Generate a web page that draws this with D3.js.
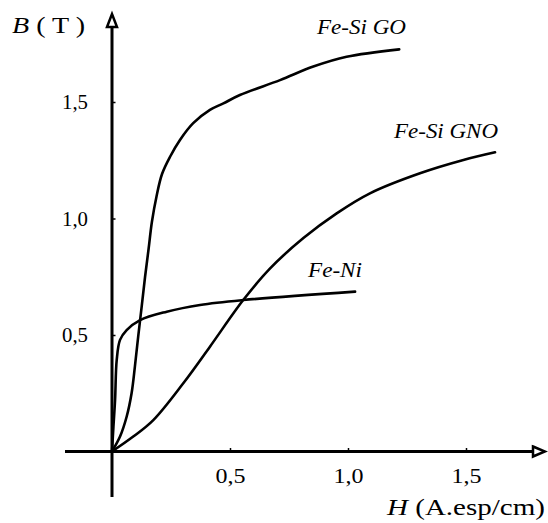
<!DOCTYPE html>
<html>
<head>
<meta charset="utf-8">
<script src="https://cdn.jsdelivr.net/npm/d3@7"></script>
<style>
  html, body { margin: 0; padding: 0; background: #fff; }
  svg { display: block; }
  svg text { font-family: serif; fill: #000; }
</style>
</head>
<body>
<svg id="chart" width="548" height="523"></svg>
<script>
// B-H curves (H in A.esp/cm, B in T)
const goH  = [0, 0.034, 0.062, 0.083, 0.097, 0.111, 0.126, 0.140, 0.155, 0.169, 0.189, 0.212, 0.246, 0.288, 0.344, 0.415, 0.472, 0.542, 0.712, 0.853, 0.994, 1.217];
const goB  = [0, 0.064, 0.149, 0.250, 0.364, 0.493, 0.624, 0.749, 0.869, 0.985, 1.097, 1.191, 1.265, 1.337, 1.409, 1.466, 1.494, 1.530, 1.594, 1.652, 1.694, 1.726];

const gnoH = [0, 0.090, 0.175, 0.302, 0.415, 0.556, 0.669, 0.811, 0.952, 1.093, 1.305, 1.489, 1.623];
const gnoB = [0, 0.064, 0.135, 0.293, 0.450, 0.650, 0.785, 0.916, 1.022, 1.108, 1.194, 1.251, 1.284];

const niH  = [0, 0.006, 0.013, 0.020, 0.034, 0.062, 0.119, 0.232, 0.373, 0.556, 1.030];
const niB  = [0, 0.106, 0.221, 0.393, 0.479, 0.521, 0.564, 0.600, 0.629, 0.650, 0.686];

const curveNames = ["Fe-Si GO", "Fe-Si GNO", "Fe-Ni"];
const xTicks = [0.5, 1.0, 1.5];
const yTicks = [0.5, 1.0, 1.5];

const svg = d3.select("#chart");

const x = d3.scaleLinear().domain([0, 1.5]).range([112, 466]);
const y = d3.scaleLinear().domain([0, 1.5]).range([451.5, 102]);

const comma = d => d.toFixed(1).replace(".", ",");

// axes lines with open arrow heads
svg.append("line")
    .attr("x1", 65).attr("y1", y(0)).attr("x2", 534).attr("y2", y(0))
    .attr("stroke", "black").attr("stroke-width", 3);
svg.append("line")
    .attr("x1", x(0)).attr("y1", 497).attr("x2", x(0)).attr("y2", 26)
    .attr("stroke", "black").attr("stroke-width", 3);

svg.append("polygon")
    .attr("points", [[533, y(0) - 5], [545, y(0)], [533, y(0) + 5]].join(" "))
    .attr("fill", "white").attr("stroke", "black").attr("stroke-width", 2.5);
svg.append("polygon")
    .attr("points", [[x(0) - 5, 27], [x(0), 14], [x(0) + 5, 27]].join(" "))
    .attr("fill", "white").attr("stroke", "black").attr("stroke-width", 2.5);

// tick marks and labels
const xAxis = svg.append("g")
    .attr("transform", `translate(0,${y(0)})`)
    .call(d3.axisBottom(x).tickValues(xTicks).tickSize(-3.5).tickPadding(16).tickFormat(comma));
const yAxis = svg.append("g")
    .attr("transform", `translate(${x(0)},0)`)
    .call(d3.axisLeft(y).tickValues(yTicks).tickSize(-3.5).tickPadding(24).tickFormat(comma));

[xAxis, yAxis].forEach(g => {
    g.attr("font-family", null);
    g.select(".domain").remove();
    g.selectAll(".tick line").attr("stroke", "black").attr("stroke-width", 1.5);
    g.selectAll("text").attr("fill", "black");
});
xAxis.attr("font-size", 22);
yAxis.attr("font-size", 21);
xAxis.selectAll("text").attr("textLength", 30).attr("lengthAdjust", "spacingAndGlyphs");
yAxis.selectAll("text").attr("textLength", 26).attr("lengthAdjust", "spacingAndGlyphs");

// curves
const line = d3.line()
    .x(d => x(d[0]))
    .y(d => y(d[1]))
    .curve(d3.curveCatmullRom.alpha(0.5));

const series = [
    d3.zip(goH, goB),
    d3.zip(gnoH, gnoB),
    d3.zip(niH, niB)
];

svg.selectAll("path.curve")
    .data(series)
    .enter().append("path")
    .attr("class", "curve")
    .attr("d", line)
    .attr("fill", "none")
    .attr("stroke", "black")
    .attr("stroke-width", 2.6)
    .attr("stroke-linecap", "round");

// curve names
const namePos = [[317, 34], [394, 138], [308, 277]];
const nameLen = [89, 104, 54];
svg.selectAll("text.name")
    .data(curveNames)
    .enter().append("text")
    .attr("class", "name")
    .attr("x", (d, i) => namePos[i][0])
    .attr("y", (d, i) => namePos[i][1])
    .attr("font-size", 22)
    .attr("font-style", "italic")
    .attr("textLength", (d, i) => nameLen[i])
    .attr("lengthAdjust", "spacingAndGlyphs")
    .text(d => d);

// axis titles
const yTitle = svg.append("text")
    .attr("x", 12).attr("y", 33)
    .attr("font-size", 24)
    .attr("textLength", 73).attr("lengthAdjust", "spacingAndGlyphs");
yTitle.append("tspan").attr("font-style", "italic").text("B");
yTitle.append("tspan").text(" ( T )");

const xTitle = svg.append("text")
    .attr("x", 387).attr("y", 515)
    .attr("font-size", 24)
    .attr("textLength", 158).attr("lengthAdjust", "spacingAndGlyphs");
xTitle.append("tspan").attr("font-style", "italic").text("H");
xTitle.append("tspan").text(" (A.esp/cm)");
</script>
</body>
</html>
